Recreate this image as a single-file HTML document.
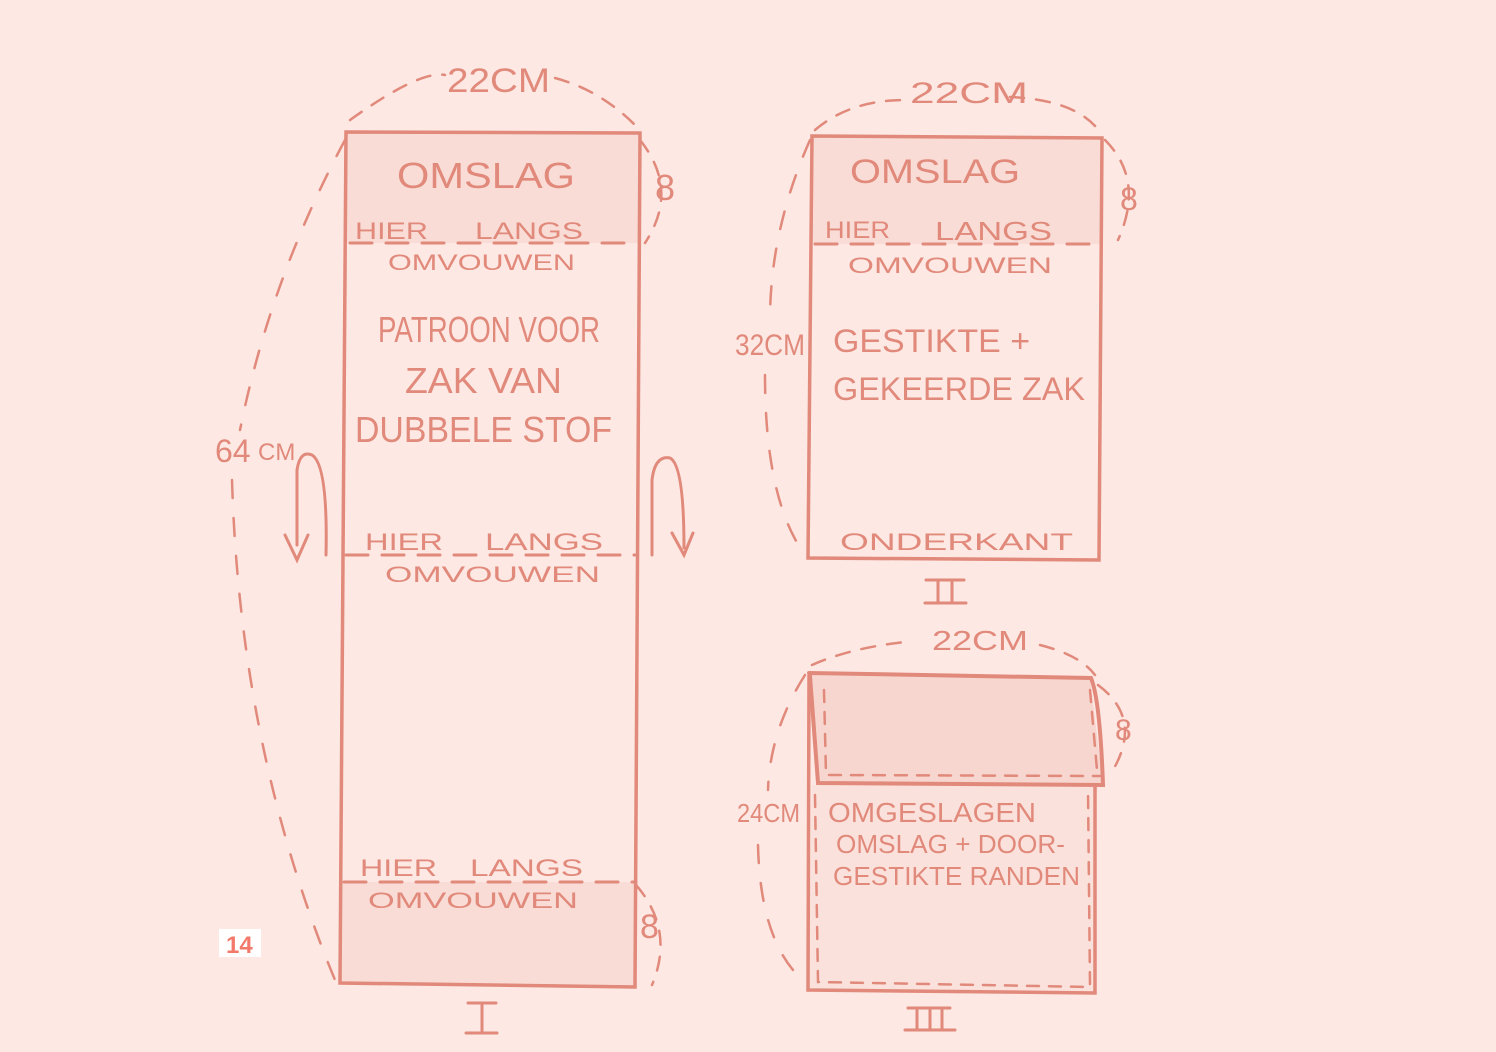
<!DOCTYPE html>
<html><head><meta charset="utf-8"><style>
html,body{margin:0;padding:0;background:#fde8e4;}
svg{display:block}
text{font-family:"Liberation Sans",sans-serif;fill:#e1897a;}
</style></head><body>
<svg width="1496" height="1052" viewBox="0 0 1496 1052" xmlns="http://www.w3.org/2000/svg">
<rect width="1496" height="1052" fill="#fde8e4"/>
<g stroke="#e1897a" fill="none" stroke-linecap="round">
<path d="M346 132 L640 132 L640 243 L346 243 Z" fill="#f9dcd6" stroke="none"/>
<path d="M341 882 L636 882 L636 986 L341 984 Z" fill="#f9dcd6" stroke="none"/>
<path d="M346 132 L640 133 L635 987 L340 983 Z" stroke-width="3.5"/>
<path d="M350 243 L632 243" stroke-width="3" stroke-dasharray="22 14"/>
<path d="M346 555 L636 555" stroke-width="3" stroke-dasharray="22 14"/>
<path d="M344 882 L636 882" stroke-width="3" stroke-dasharray="22 14"/>
<path d="M350 120 Q420 70 445 75 M555 78 Q600 90 635 125" stroke-width="2.5" stroke-dasharray="14 12"/>
<path d="M640 140 Q680 190 645 243" stroke-width="2.5" stroke-dasharray="14 12"/>
<path d="M345 140 Q270 280 240 430 M232 480 Q240 750 335 980" stroke-width="2.5" stroke-dasharray="18 20"/>
<path d="M636 885 Q675 930 652 985" stroke-width="2.5" stroke-dasharray="14 12"/>
<path d="M297 545 L297 470 Q300 450 312 455 Q328 465 326 555" stroke-width="3"/>
<path d="M285 535 L297 560 L308 535" stroke-width="3"/>
<path d="M652 555 L652 480 Q655 455 670 458 Q684 465 684 548" stroke-width="3"/>
<path d="M672 533 L684 555 L693 533" stroke-width="3"/>
<path d="M468 1003 L496 1003 M482 1003 L482 1033 M466 1033 L497 1033" stroke-width="3"/>
<path d="M812 136 L1102 138 L1102 244 L812 244 Z" fill="#f9dcd6" stroke="none"/>
<path d="M812 136 L1102 138 L1099 560 L808 558 Z" stroke-width="3.5"/>
<path d="M815 244 L1098 244" stroke-width="3" stroke-dasharray="22 14"/>
<path d="M815 130 Q850 100 905 100 M1010 97 Q1080 100 1102 135" stroke-width="2.5" stroke-dasharray="14 12"/>
<path d="M1105 140 Q1145 180 1118 240" stroke-width="2.5" stroke-dasharray="14 12"/>
<path d="M810 140 Q770 230 770 320 M765 375 Q765 500 805 555" stroke-width="2.5" stroke-dasharray="18 20"/>
<path d="M926 580 L964 580 M938 580 L938 603 M952 580 L952 603 M925 603 L966 603" stroke-width="3"/>
<path d="M810 675 L1090 678 L1103 785 L818 783 Z" fill="#f7d6cf" stroke="none"/>
<path d="M812 785 L1097 785 L1095 993 L808 990 Z" fill="#fbe1dc" stroke="none"/>
<path d="M809 673 L1091 678 Q1100 700 1103 785 L818 783 L810 676" stroke-width="4"/>
<path d="M809 676 L808 990 L1095 993 L1095 785" stroke-width="3.5"/>
<path d="M824 690 L826 775 L1100 776 M1090 690 L1097 770" stroke-width="2.5" stroke-dasharray="12 10"/>
<path d="M815 795 L818 982 L1090 987 L1088 790" stroke-width="2.5" stroke-dasharray="12 10"/>
<path d="M812 665 Q850 648 905 642 M1040 645 Q1080 655 1095 675" stroke-width="2.5" stroke-dasharray="14 12"/>
<path d="M1098 685 Q1145 720 1110 775" stroke-width="2.5" stroke-dasharray="14 12"/>
<path d="M805 675 Q770 730 768 790 M758 845 Q760 930 793 970" stroke-width="2.5" stroke-dasharray="18 20"/>
<path d="M908 1008 L950 1008 M917 1008 L917 1030 M930 1008 L930 1030 M942 1008 L942 1030 M905 1030 L955 1030" stroke-width="3"/>
</g>
<g lengthAdjust="spacingAndGlyphs">
<text x="447" y="92" font-size="34" textLength="103" lengthAdjust="spacingAndGlyphs">22CM</text>
<text x="397" y="188" font-size="36" textLength="178" lengthAdjust="spacingAndGlyphs">OMSLAG</text>
<text x="655" y="200" font-size="36">8</text>
<text x="355" y="239" font-size="24" textLength="73" lengthAdjust="spacingAndGlyphs">HIER</text>
<text x="475" y="239" font-size="24" textLength="108" lengthAdjust="spacingAndGlyphs">LANGS</text>
<text x="388" y="270" font-size="22" textLength="187" lengthAdjust="spacingAndGlyphs">OMVOUWEN</text>
<text x="378" y="342" font-size="36" textLength="222" lengthAdjust="spacingAndGlyphs">PATROON VOOR</text>
<text x="405" y="393" font-size="36" textLength="157" lengthAdjust="spacingAndGlyphs">ZAK VAN</text>
<text x="355" y="442" font-size="36" textLength="257" lengthAdjust="spacingAndGlyphs">DUBBELE STOF</text>
<text x="215" y="462" font-size="32">64</text>
<text x="258" y="460" font-size="24">CM</text>
<text x="365" y="550" font-size="24" textLength="78" lengthAdjust="spacingAndGlyphs">HIER</text>
<text x="485" y="550" font-size="24" textLength="118" lengthAdjust="spacingAndGlyphs">LANGS</text>
<text x="385" y="582" font-size="22" textLength="215" lengthAdjust="spacingAndGlyphs">OMVOUWEN</text>
<text x="360" y="876" font-size="24" textLength="77" lengthAdjust="spacingAndGlyphs">HIER</text>
<text x="470" y="876" font-size="24" textLength="113" lengthAdjust="spacingAndGlyphs">LANGS</text>
<text x="368" y="908" font-size="22" textLength="210" lengthAdjust="spacingAndGlyphs">OMVOUWEN</text>
<text x="640" y="938" font-size="34">8</text>
<text x="910" y="103" font-size="30" textLength="118" lengthAdjust="spacingAndGlyphs">22CM</text>
<text x="850" y="183" font-size="34" textLength="170" lengthAdjust="spacingAndGlyphs">OMSLAG</text>
<text x="1120" y="210" font-size="32">8</text>
<text x="825" y="238" font-size="24" textLength="65" lengthAdjust="spacingAndGlyphs">HIER</text>
<text x="935" y="240" font-size="26" textLength="117" lengthAdjust="spacingAndGlyphs">LANGS</text>
<text x="848" y="273" font-size="22" textLength="204" lengthAdjust="spacingAndGlyphs">OMVOUWEN</text>
<text x="735" y="355" font-size="30" textLength="70" lengthAdjust="spacingAndGlyphs">32CM</text>
<text x="833" y="352" font-size="32" textLength="197" lengthAdjust="spacingAndGlyphs">GESTIKTE +</text>
<text x="833" y="400" font-size="32" textLength="252" lengthAdjust="spacingAndGlyphs">GEKEERDE ZAK</text>
<text x="840" y="550" font-size="24" textLength="233" lengthAdjust="spacingAndGlyphs">ONDERKANT</text>
<text x="932" y="650" font-size="28" textLength="96" lengthAdjust="spacingAndGlyphs">22CM</text>
<text x="1115" y="740" font-size="30">8</text>
<text x="737" y="822" font-size="26" textLength="63" lengthAdjust="spacingAndGlyphs">24CM</text>
<text x="828" y="822" font-size="28" textLength="208" lengthAdjust="spacingAndGlyphs">OMGESLAGEN</text>
<text x="836" y="853" font-size="26" textLength="229" lengthAdjust="spacingAndGlyphs">OMSLAG + DOOR-</text>
<text x="833" y="885" font-size="26" textLength="247" lengthAdjust="spacingAndGlyphs">GESTIKTE RANDEN</text>
</g>
<rect x="219" y="929" width="42" height="28" fill="#ffffff"/>
<text x="226" y="953" font-size="24" font-weight="bold" style="fill:#f37a6a">14</text>
</svg>
</body></html>
